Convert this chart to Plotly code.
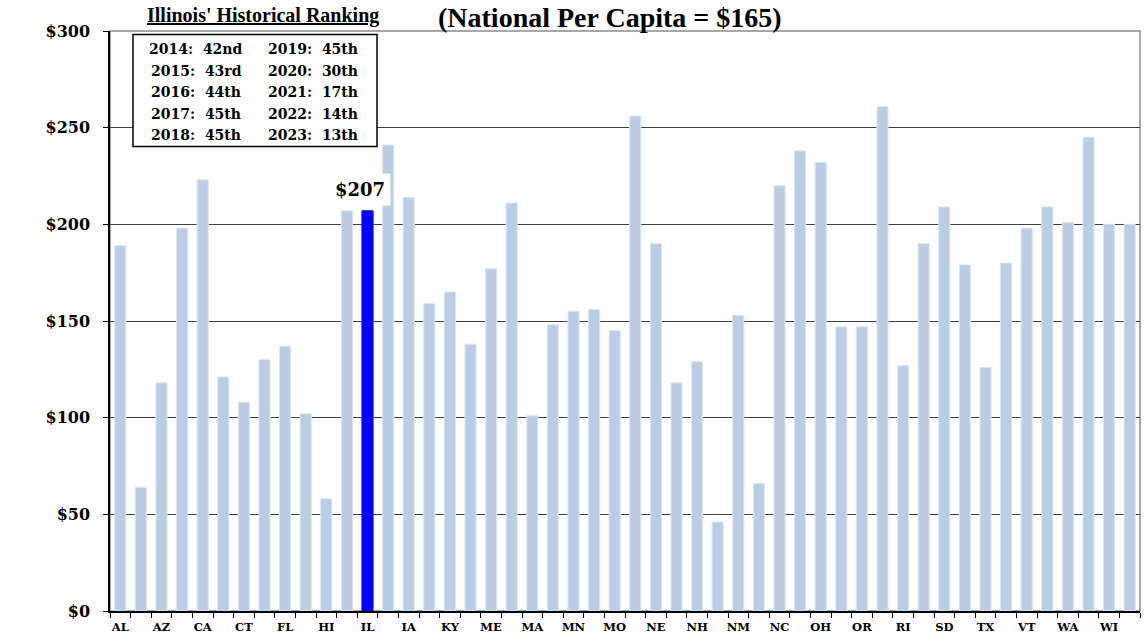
import plotly.graph_objects as go

states = ["AL","AK","AZ","AR","CA","CO","CT","DE","FL","GA","HI","ID","IL","IN","IA","KS","KY","LA","ME","MD",
          "MA","MI","MN","MS","MO","MT","NE","NV","NH","NJ","NM","NY","NC","ND","OH","OK","OR","PA","RI","SC",
          "SD","TN","TX","UT","VT","VA","WA","WV","WI","WY"]
per_capita = [189, 64, 118, 198, 223, 121, 108, 130, 137, 102, 58, 207, 207, 241, 214, 159, 165, 138, 177, 211,
              101, 148, 155, 156, 145, 256, 190, 118, 129, 46, 153, 66, 220, 238, 232, 147, 147, 261, 127, 190,
              209, 179, 126, 180, 198, 209, 201, 245, 200, 200]
highlight_state = "IL"
highlight_label = "$207"
title_text = "(National Per Capita = $165)"
ranking_title = "Illinois' Historical Ranking"
ranking_left = ["2014:  42nd", "2015:  43rd", "2016:  44th", "2017:  45th", "2018:  45th"]
ranking_right = ["2019:  45th", "2020:  30th", "2021:  17th", "2022:  14th", "2023:  13th"]
y_ticks = [0, 50, 100, 150, 200, 250, 300]

W, H = 1144, 644
ML, MR, MT, MB = 110, 4, 31, 33
PW, PH = W - ML - MR, H - MT - MB

def px(x):
    return (x - ML) / PW

def py(y):
    return (H - MB - y) / PH

base_col = "#B9CDE5"
hi_col = "#0000FF"
colors = [hi_col if s == highlight_state else base_col for s in states]
line_cols = [hi_col if s == highlight_state else "#DCE6F2" for s in states]
ticktext = [s if i % 2 == 0 else "" for i, s in enumerate(states)]

serif_num = "DejaVu Serif"
serif_title = "Liberation Serif"

fig = go.Figure()
fig.add_trace(go.Bar(
    x=states, y=per_capita,
    marker=dict(color=colors, line=dict(color=line_cols, width=1)),
    hoverinfo="x+y",
))

fig.update_layout(
    width=W, height=H,
    margin=dict(l=ML, r=MR, t=MT, b=MB),
    paper_bgcolor="white", plot_bgcolor="white",
    showlegend=False,
    bargap=0.46,
    xaxis=dict(
        type="category", tickmode="array", tickvals=states, ticktext=ticktext,
        tickson="boundaries", ticks="outside", ticklen=5, tickcolor="black", tickwidth=1,
        showline=True, linecolor="black", linewidth=1.5, showgrid=False,
        tickfont=dict(family=serif_num, size=11.5, color="black", weight="bold"),
        tickangle=0, ticklabelstandoff=4,
    ),
    yaxis=dict(
        range=[0, 300], tickmode="array", tickvals=y_ticks,
        ticktext=[f"${v}" for v in y_ticks],
        ticks="outside", ticklen=5, tickcolor="black",
        showline=True, linecolor="black", linewidth=1.5,
        showgrid=True, gridcolor="#404040", gridwidth=1, zeroline=False,
        tickfont=dict(family=serif_num, size=16, color="black", weight="bold"),
        ticklabelstandoff=10,
    ),
)

# plot frame (grey top/right border)
fig.add_shape(type="rect", xref="paper", yref="paper", x0=0, x1=1, y0=0, y1=1,
              line=dict(color="#8C8C8C", width=1.5), layer="below")

# title
fig.add_annotation(text=f"<b>{title_text}</b>", xref="paper", yref="paper",
                   x=px(610), y=py(17), xanchor="center", yanchor="middle", showarrow=False,
                   font=dict(family=serif_title, size=28, color="black"))

# ranking header
fig.add_annotation(text=f"<b><u>{ranking_title}</u></b>", xref="paper", yref="paper",
                   x=px(263), y=py(16), xanchor="center", yanchor="middle", showarrow=False,
                   font=dict(family=serif_title, size=20, color="black"))

# ranking box
fig.add_shape(type="rect", xref="paper", yref="paper",
              x0=px(133), x1=px(377), y0=py(146.5), y1=py(34.5),
              line=dict(color="black", width=1.5), fillcolor="white", layer="above")
row_y = [49, 70.5, 92, 113.5, 135]
for i, (a, b) in enumerate(zip(ranking_left, ranking_right)):
    fig.add_annotation(text=f"<b>{a}</b>", xref="paper", yref="paper", x=px(196), y=py(row_y[i]),
                       xanchor="center", yanchor="middle", showarrow=False,
                       font=dict(family=serif_num, size=14, color="black"))
    fig.add_annotation(text=f"<b>{b}</b>", xref="paper", yref="paper", x=px(313), y=py(row_y[i]),
                       xanchor="center", yanchor="middle", showarrow=False,
                       font=dict(family=serif_num, size=14, color="black"))

# highlighted value label
hi_idx = states.index(highlight_state)
fig.add_annotation(text=f"<b>{highlight_label}</b>", x=highlight_state, y=per_capita[hi_idx],
                   xref="x", yref="y", xanchor="center", yanchor="bottom", showarrow=False,
                   xshift=-8, yshift=5, bgcolor="white", borderpad=5,
                   font=dict(family=serif_num, size=18, color="black"))

fig.write_html("out.html", config={"displayModeBar": False},
               post_script="document.body.style.margin='0';")
